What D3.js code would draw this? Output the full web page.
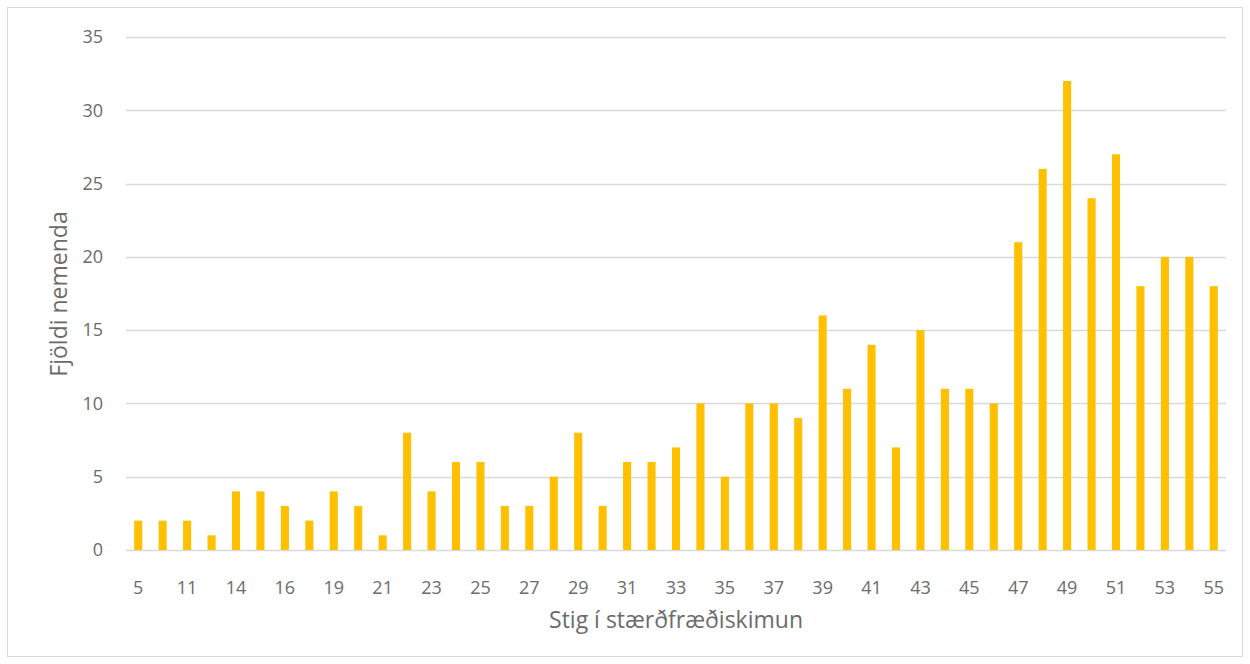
<!DOCTYPE html>
<html><head><meta charset="utf-8">
<script src="https://cdn.jsdelivr.net/npm/d3@7"></script>
<style>
html,body{margin:0;padding:0;background:#fff;}
svg text{font-family:"Open Sans",sans-serif;fill:#6b6b6b;}
</style></head>
<body>
<svg id="chart" width="1250" height="664"></svg>
<script>
const categories = ["5","8","11","12","14","15","16","17","19","20","21","22","23","24","25","26","27","28","29","30","31","32","33","34","35","36","37","38","39","40","41","42","43","44","45","46","47","48","49","50","51","52","53","54","55"];
const values = [2,2,2,1,4,4,3,2,4,3,1,8,4,6,6,3,3,5,8,3,6,6,7,10,5,10,10,9,16,11,14,7,15,11,11,10,21,26,32,24,27,18,20,20,18];
const yTicks = [0,5,10,15,20,25,30,35];
const xTitle = "Stig í stærðfræðiskimun";
const yTitle = "Fjöldi nemenda";

const svg = d3.select("#chart");
svg.append("rect").attr("x",7.5).attr("y",7.5).attr("width",1235).attr("height",649)
  .attr("fill","#fff").attr("stroke","#d9d9d9");

const pLeft=126, pRight=1226, pTop=37, pBottom=550;
const x = d3.scaleBand().domain(categories).range([pLeft,pRight]).paddingInner(0.67).paddingOuter(0.335);
const y = d3.scaleLinear().domain([0,35]).range([pBottom,pTop]);

svg.append("g").selectAll("line").data(yTicks).join("line")
  .attr("x1",pLeft).attr("x2",pRight)
  .attr("y1",d=>Math.round(y(d))+0.5).attr("y2",d=>Math.round(y(d))+0.5)
  .attr("stroke","#d9d9d9").attr("stroke-width",1.3);

svg.append("g").selectAll("text").data(yTicks).join("text")
  .attr("x",103).attr("y",d=>y(d)).attr("dy","0.35em")
  .attr("text-anchor","end").attr("font-size",18).text(d=>d);

svg.append("g").selectAll("rect").data(values).join("rect")
  .attr("x",(d,i)=>x(categories[i])).attr("width",x.bandwidth())
  .attr("y",d=>y(d)).attr("height",d=>pBottom-y(d))
  .attr("fill","#FFC000");

svg.append("g").selectAll("text").data(categories.filter((c,i)=>i%2===0)).join("text")
  .attr("x",c=>x(c)+x.bandwidth()/2).attr("y",594)
  .attr("text-anchor","middle").attr("font-size",18).text(c=>c);

svg.append("text").attr("x",676).attr("y",628).attr("text-anchor","middle")
  .attr("font-size",23).text(xTitle);
svg.append("text").attr("transform","translate(67,294) rotate(-90)")
  .attr("text-anchor","middle").attr("font-size",23).text(yTitle);
</script>
</body></html>
